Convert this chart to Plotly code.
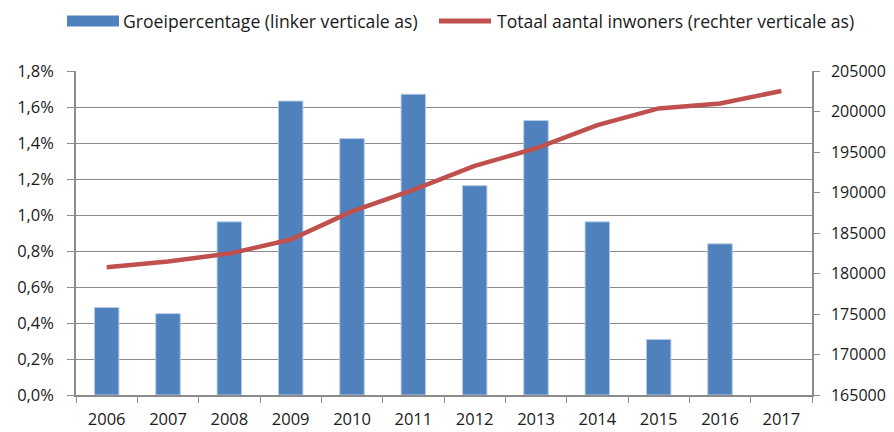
import plotly.graph_objects as go

YEARS = ["2006", "2007", "2008", "2009", "2010", "2011", "2012", "2013", "2014", "2015", "2016", "2017"]
GROWTH_PCT = [0.486, 0.452, 0.962, 1.633, 1.425, 1.671, 1.163, 1.525, 0.962, 0.309, 0.840, None]
INHABITANTS = [180780, 181480, 182460, 184190, 187660, 190330, 193280, 195460, 198330, 200380, 200990, 202540]

BAR_NAME = "Groeipercentage (linker verticale as)"
LINE_NAME = "Totaal aantal inwoners (rechter verticale as)"

BAR_COLOR = "#4F81BD"
LINE_COLOR = "#C0504D"
GRID_COLOR = "#8C8C8C"
TEXT_COLOR = "#1a1a1a"
FONT = "Open Sans, Noto Sans, sans-serif"

# page body has an 8px margin, so the figure is sized to fill the rest of the window
FIG_W, FIG_H = 886, 424
MARGIN = {"l": 68, "r": 82, "t": 63, "b": 37}
PLOT_W = FIG_W - MARGIN["l"] - MARGIN["r"]
PLOT_H = FIG_H - MARGIN["t"] - MARGIN["b"]


def px_to_paper(x, y):
    # window pixel -> paper coordinates of the plot area
    return (x - 8 - MARGIN["l"]) / PLOT_W, (FIG_H - MARGIN["b"] - (y - 8)) / PLOT_H


fig = go.Figure()
fig.add_trace(
    go.Bar(
        x=YEARS,
        y=GROWTH_PCT,
        name=BAR_NAME,
        marker={"color": BAR_COLOR, "line": {"color": "#B9CDE5", "width": 1}},
        width=0.4,
        yaxis="y",
    )
)
fig.add_trace(
    go.Scatter(
        x=YEARS,
        y=INHABITANTS,
        mode="lines",
        name=LINE_NAME,
        line={"color": LINE_COLOR, "width": 4.5},
        yaxis="y2",
    )
)

# hand-drawn legend to get the wide swatches of the original
bx0, by0 = px_to_paper(67, 15.5)
bx1, by1 = px_to_paper(119, 26.5)
fig.add_shape(type="rect", xref="paper", yref="paper", x0=bx0, x1=bx1, y0=by1, y1=by0,
              fillcolor=BAR_COLOR, line={"width": 0})
lx0, ly = px_to_paper(439, 21)
lx1, _ = px_to_paper(491, 21)
fig.add_shape(type="line", xref="paper", yref="paper", x0=lx0, x1=lx1, y0=ly, y1=ly,
              line={"color": LINE_COLOR, "width": 5})
tx, ty = px_to_paper(121, 21)
fig.add_annotation(text=BAR_NAME, xref="paper", yref="paper", x=tx, y=ty,
                   xanchor="left", yanchor="middle", showarrow=False,
                   font={"size": 17.6, "color": TEXT_COLOR})
tx, ty = px_to_paper(495, 21)
fig.add_annotation(text=LINE_NAME, xref="paper", yref="paper", x=tx, y=ty,
                   xanchor="left", yanchor="middle", showarrow=False,
                   font={"size": 17.6, "color": TEXT_COLOR})

fig.update_layout(
    width=FIG_W,
    height=FIG_H,
    template="plotly_white",
    plot_bgcolor="white",
    paper_bgcolor="white",
    separators=",.",
    font={"family": FONT, "size": 16.5, "color": TEXT_COLOR},
    margin={**MARGIN, "autoexpand": False},
    showlegend=False,
    xaxis={
        "type": "category",
        "automargin": False,
        "showgrid": False,
        "showline": True,
        "linecolor": GRID_COLOR,
        "linewidth": 1.5,
        "ticks": "outside",
        "tickson": "boundaries",
        "ticklen": 6,
        "tickcolor": GRID_COLOR,
        "ticklabelstandoff": 8,
        "range": [-0.5, 11.5],
    },
    yaxis={
        "automargin": False,
        "range": [0, 1.8],
        "dtick": 0.2,
        "tickformat": ".1f",
        "ticksuffix": "%",
        "showgrid": True,
        "gridcolor": GRID_COLOR,
        "gridwidth": 1.25,
        "showline": True,
        "linecolor": GRID_COLOR,
        "linewidth": 1.5,
        "ticks": "outside",
        "ticklen": 7,
        "tickcolor": GRID_COLOR,
        "ticklabelstandoff": 10,
        "zeroline": False,
    },
    yaxis2={
        "automargin": False,
        "range": [165000, 205000],
        "dtick": 5000,
        "tickformat": "d",
        "overlaying": "y",
        "side": "right",
        "showgrid": False,
        "showline": True,
        "linecolor": GRID_COLOR,
        "linewidth": 1.5,
        "ticks": "outside",
        "ticklen": 6,
        "tickcolor": GRID_COLOR,
        "ticklabelstandoff": 8,
        "tickfont": {"size": 16},
        "zeroline": False,
    },
)

fig.write_html("out.html")
